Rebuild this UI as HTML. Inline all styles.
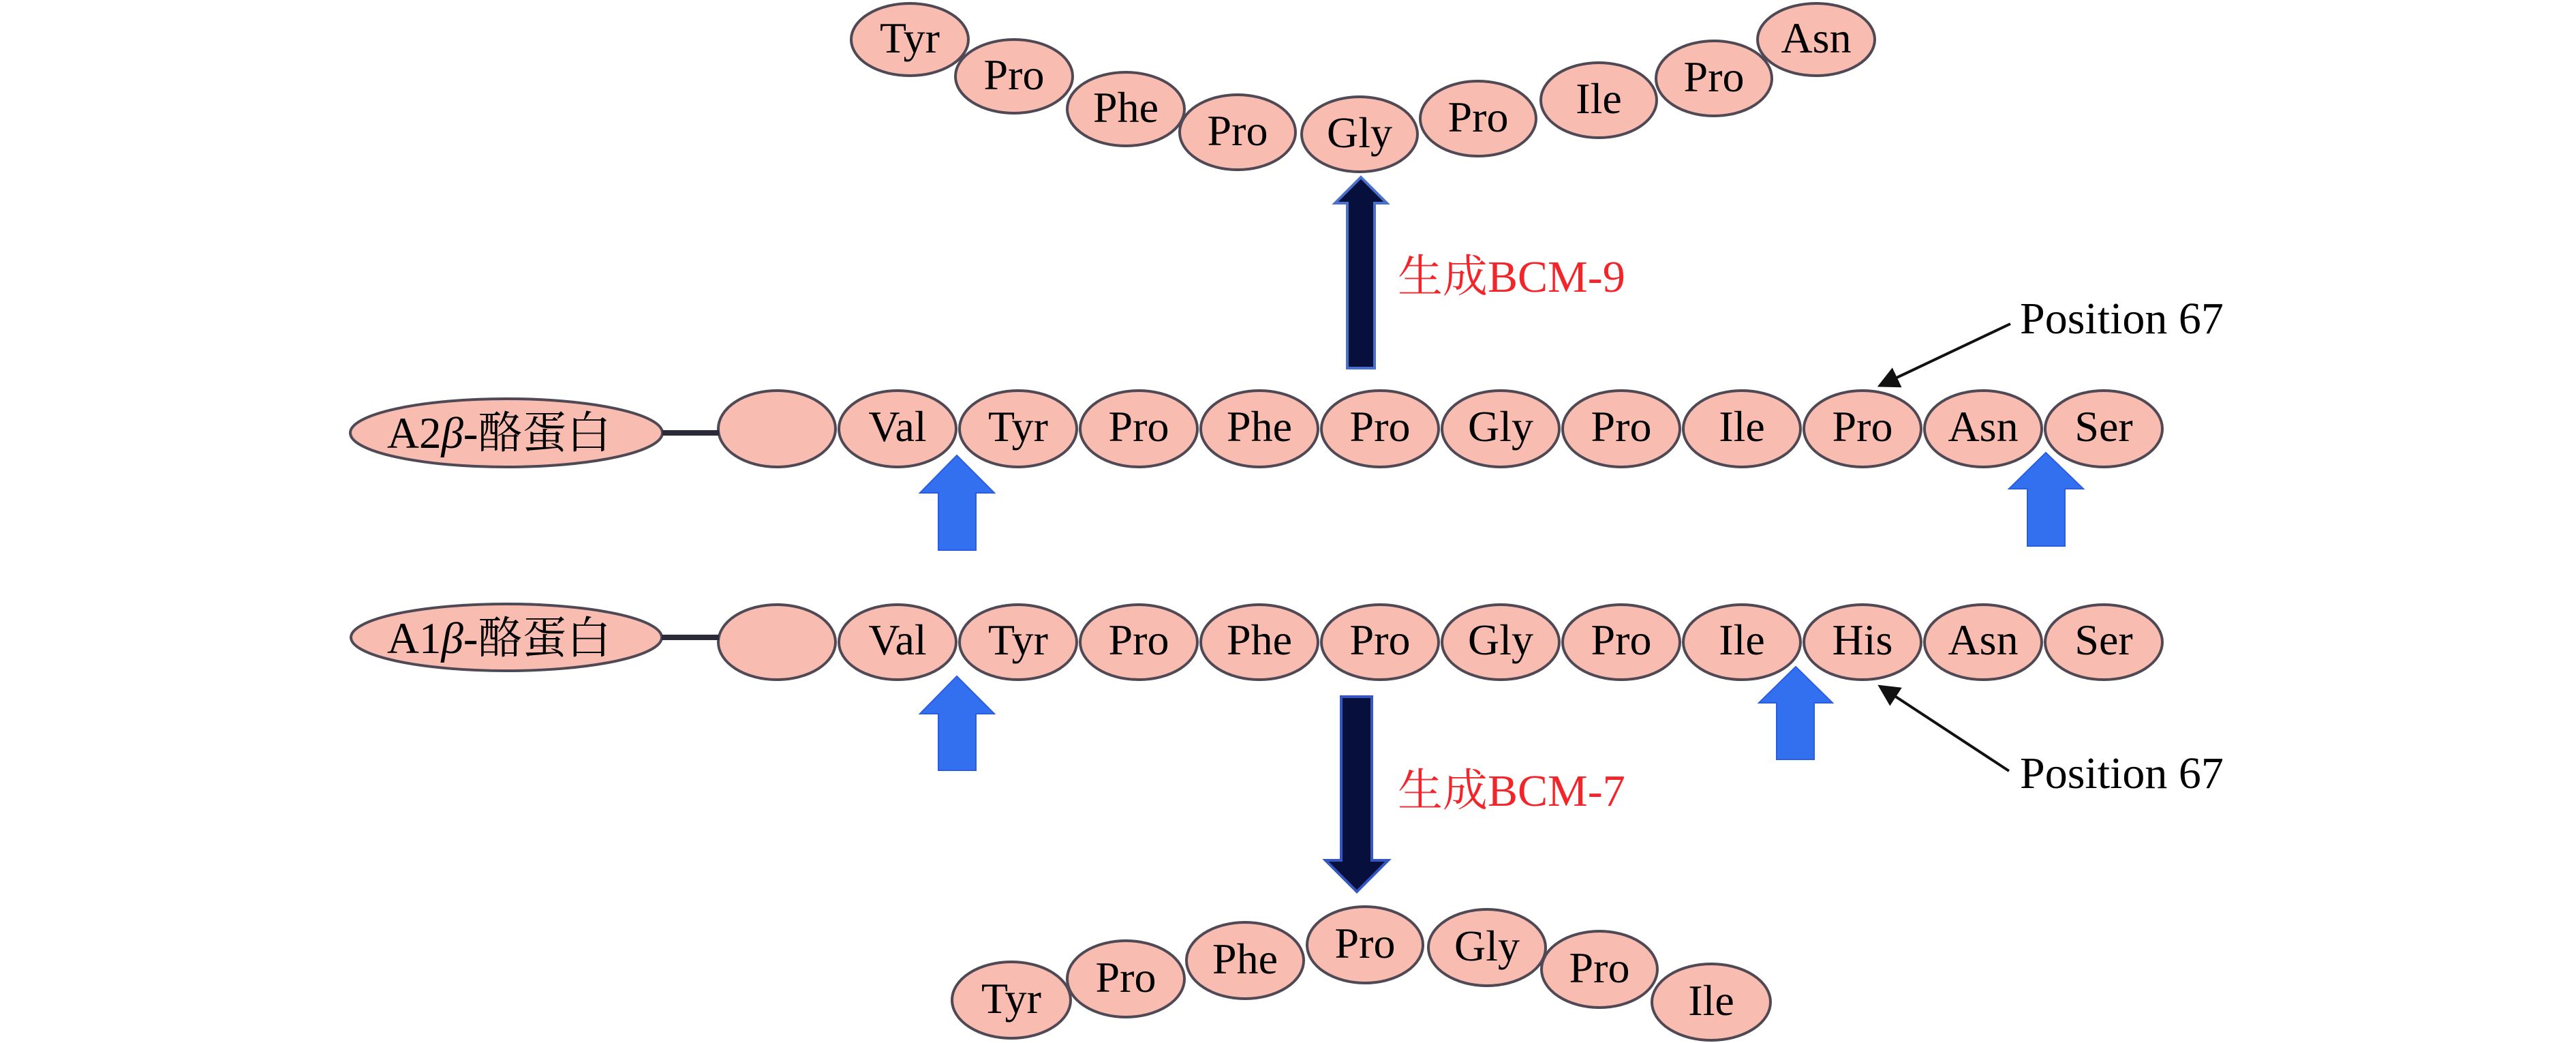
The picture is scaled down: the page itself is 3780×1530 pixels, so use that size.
<!DOCTYPE html>
<html>
<head>
<meta charset="utf-8">
<style>
html,body{margin:0;padding:0;background:#ffffff;}
svg{display:block;}
.aa{font-family:"Liberation Serif","Noto Serif CJK SC",serif;font-size:64px;fill:#000;text-anchor:middle;}
.lbl{font-family:"Liberation Serif","Noto Serif CJK SC",serif;font-size:65px;fill:#000;}
.red{font-family:"Liberation Serif","Noto Serif CJK SC",serif;font-size:66px;fill:#f2262a;}
.pos{font-family:"Liberation Serif",serif;font-size:66px;fill:#000;}
</style>
</head>
<body>
<svg width="3780" height="1530" viewBox="0 0 3780 1530" xmlns="http://www.w3.org/2000/svg">
<defs>
<marker id="ah" markerWidth="8" markerHeight="8" refX="6" refY="4" orient="auto" markerUnits="strokeWidth">
<path d="M0,0 L8,4 L0,8 z" fill="#111"/>
</marker>
</defs>
<g fill="#f9bcb0" stroke="#4f4855" stroke-width="4">

<!-- top chain BCM-9 -->
<ellipse cx="1335" cy="58" rx="86" ry="53"/>
<ellipse cx="1488" cy="112" rx="86" ry="54"/>
<ellipse cx="1652" cy="160" rx="86" ry="54"/>
<ellipse cx="1816" cy="194" rx="85" ry="55"/>
<ellipse cx="1995" cy="197" rx="85" ry="55"/>
<ellipse cx="2169" cy="174" rx="85" ry="55"/>
<ellipse cx="2346" cy="147" rx="85" ry="55"/>
<ellipse cx="2515" cy="115" rx="85" ry="55"/>
<ellipse cx="2665" cy="58" rx="86" ry="53"/>

<!-- A2 row -->
<ellipse cx="743" cy="635" rx="229" ry="50"/>
<ellipse cx="1140" cy="629" rx="86" ry="56"/>
<ellipse cx="1317" cy="629" rx="86" ry="56"/>
<ellipse cx="1494" cy="629" rx="86" ry="56"/>
<ellipse cx="1671" cy="629" rx="86" ry="56"/>
<ellipse cx="1848" cy="629" rx="86" ry="56"/>
<ellipse cx="2025" cy="629" rx="86" ry="56"/>
<ellipse cx="2202" cy="629" rx="86" ry="56"/>
<ellipse cx="2379" cy="629" rx="86" ry="56"/>
<ellipse cx="2556" cy="629" rx="86" ry="56"/>
<ellipse cx="2733" cy="629" rx="86" ry="56"/>
<ellipse cx="2910" cy="629" rx="86" ry="56"/>
<ellipse cx="3087" cy="629" rx="86" ry="56"/>

<!-- A1 row -->
<ellipse cx="743" cy="935" rx="228" ry="49"/>
<ellipse cx="1140" cy="942" rx="86" ry="55"/>
<ellipse cx="1317" cy="942" rx="86" ry="55"/>
<ellipse cx="1494" cy="942" rx="86" ry="55"/>
<ellipse cx="1671" cy="942" rx="86" ry="55"/>
<ellipse cx="1848" cy="942" rx="86" ry="55"/>
<ellipse cx="2025" cy="942" rx="86" ry="55"/>
<ellipse cx="2202" cy="942" rx="86" ry="55"/>
<ellipse cx="2379" cy="942" rx="86" ry="55"/>
<ellipse cx="2556" cy="942" rx="86" ry="55"/>
<ellipse cx="2733" cy="942" rx="86" ry="55"/>
<ellipse cx="2910" cy="942" rx="86" ry="55"/>
<ellipse cx="3087" cy="942" rx="86" ry="55"/>

<!-- bottom chain BCM-7 -->
<ellipse cx="1484" cy="1467" rx="87" ry="56"/>
<ellipse cx="1652" cy="1436" rx="86" ry="56"/>
<ellipse cx="1827" cy="1409" rx="86" ry="56"/>
<ellipse cx="2003" cy="1386" rx="85" ry="56"/>
<ellipse cx="2182" cy="1390" rx="86" ry="56"/>
<ellipse cx="2347" cy="1422" rx="85" ry="56"/>
<ellipse cx="2511" cy="1470" rx="87" ry="56"/>
</g>

<!-- connector lines -->
<rect x="972" y="631" width="83" height="8" fill="#2b2a38"/>
<rect x="971" y="931" width="84" height="8" fill="#2b2a38"/>

<!-- top chain text -->
<g class="aa">
<text x="1335" y="77">Tyr</text>
<text x="1488" y="131">Pro</text>
<text x="1652" y="179">Phe</text>
<text x="1816" y="213">Pro</text>
<text x="1995" y="216">Gly</text>
<text x="2169" y="193">Pro</text>
<text x="2346" y="166">Ile</text>
<text x="2515" y="134">Pro</text>
<text x="2665" y="77">Asn</text>
</g>

<!-- A2 row text -->
<text class="lbl" x="568" y="657">A2<tspan font-style="italic">β</tspan>-酪蛋白</text>
<g class="aa">
<text x="1317" y="647">Val</text>
<text x="1494" y="647">Tyr</text>
<text x="1671" y="647">Pro</text>
<text x="1848" y="647">Phe</text>
<text x="2025" y="647">Pro</text>
<text x="2202" y="647">Gly</text>
<text x="2379" y="647">Pro</text>
<text x="2556" y="647">Ile</text>
<text x="2733" y="647">Pro</text>
<text x="2910" y="647">Asn</text>
<text x="3087" y="647">Ser</text>
</g>

<!-- A1 row text -->
<text class="lbl" x="568" y="958">A1<tspan font-style="italic">β</tspan>-酪蛋白</text>
<g class="aa">
<text x="1317" y="960">Val</text>
<text x="1494" y="960">Tyr</text>
<text x="1671" y="960">Pro</text>
<text x="1848" y="960">Phe</text>
<text x="2025" y="960">Pro</text>
<text x="2202" y="960">Gly</text>
<text x="2379" y="960">Pro</text>
<text x="2556" y="960">Ile</text>
<text x="2733" y="960">His</text>
<text x="2910" y="960">Asn</text>
<text x="3087" y="960">Ser</text>
</g>

<!-- bottom chain text -->
<g class="aa">
<text x="1484" y="1486">Tyr</text>
<text x="1652" y="1455">Pro</text>
<text x="1827" y="1428">Phe</text>
<text x="2003" y="1405">Pro</text>
<text x="2182" y="1409">Gly</text>
<text x="2347" y="1441">Pro</text>
<text x="2511" y="1489">Ile</text>
</g>

<!-- navy arrows -->
<path d="M1997,260 L2035,298 L2017,298 L2017,540 L1977,540 L1977,298 L1959,298 Z" fill="#070f3d" stroke="#4a70c8" stroke-width="4" stroke-linejoin="miter"/>
<path d="M1968,1022 L2013,1022 L2013,1262 L2037,1262 L1991,1308 L1945,1262 L1968,1262 Z" fill="#070f3d" stroke="#3558c0" stroke-width="4" stroke-linejoin="miter"/>

<!-- blue arrows -->
<g fill="#3370f0" stroke="#2a5de0" stroke-width="2">
<path d="M1404,668 L1459,723 L1432,723 L1432,807 L1377,807 L1377,723 L1350,723 Z"/>
<path d="M3002,664 L3057,717 L3030,717 L3030,801 L2975,801 L2975,717 L2948,717 Z"/>
<path d="M1404,992 L1459,1047 L1432,1047 L1432,1130 L1377,1130 L1377,1047 L1350,1047 Z"/>
<path d="M2635,978 L2689,1031 L2662,1031 L2662,1114 L2607,1114 L2607,1031 L2581,1031 Z"/>
</g>

<!-- red labels -->
<text class="red" x="2051" y="428">生成BCM-9</text>
<text class="red" x="2051" y="1182">生成BCM-7</text>

<!-- position pointers -->
<line x1="2950" y1="475" x2="2762" y2="564" stroke="#111" stroke-width="4" marker-end="url(#ah)"/>
<line x1="2948" y1="1131" x2="2762" y2="1009" stroke="#111" stroke-width="4" marker-end="url(#ah)"/>
<text class="pos" x="2964" y="489">Position 67</text>
<text class="pos" x="2964" y="1156">Position 67</text>
</svg>
</body>
</html>
